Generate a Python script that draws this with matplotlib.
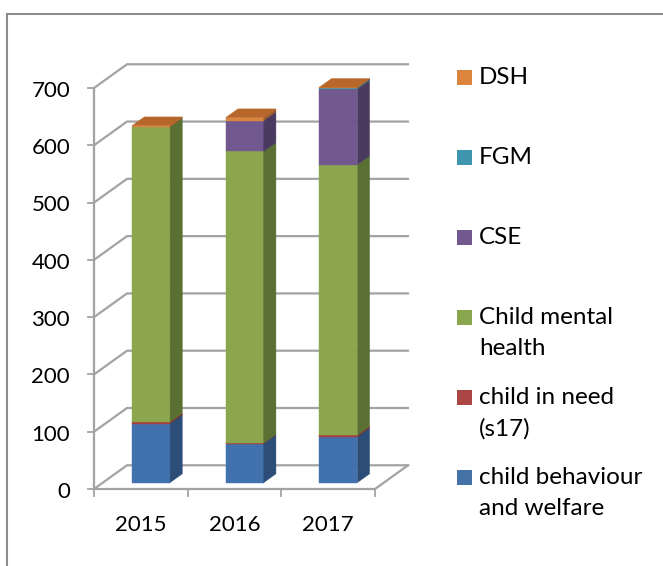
#!/usr/bin/env python3
"""Stacked bars with a fake 3D look: front, side and top faces per segment."""

import matplotlib

matplotlib.use("Agg")
import matplotlib.pyplot as plt
from matplotlib.lines import Line2D
from matplotlib.patches import Polygon, Rectangle

plt.rcParams["font.family"] = ["Lato", "DejaVu Sans"]

W, H = 663, 566

years = ["2015", "2016", "2017"]
child_behaviour = [103, 68, 80]
child_in_need = [3, 1, 3]
child_mental = [515, 509, 472]
cse = [0, 54, 132]
fgm = [0, 0, 2]
dsh = [2, 5, 1]
yticks = [0, 100, 200, 300, 400, 500, 600, 700]

series = [child_behaviour, child_in_need, child_mental, cse, fgm, dsh]
front_cols = ["#4272AE", "#A5403C", "#8CA64E", "#71588F", "#3D96AE", "#DB843D"]
side_cols = ["#2C4D77", "#6F2B29", "#5A6F32", "#4A3A60", "#28677A", "#97592A"]
top_col = "#B8672A"
grid_col = "#A3A3A3"

legend_labels = ["DSH", "FGM", "CSE", "Child mental\nhealth", "child in need\n(s17)",
                 "child behaviour\nand welfare"]
legend_cols = ["#DB843D", "#3D96AE", "#71588F", "#89A54E", "#AA4643", "#4572A7"]
legend_y = [77, 157, 237, 317, 397, 477]

# depth of the floor, in category and value units
DX = 33 / 93.7
DY = 41.4
BAR_W = 0.406
T0, T1 = 0.27, 0.64
LABEL_SIZE = 16
LEGEND_SIZE = 17.5


def proj(x, y, t):
    """Front-plane data coords for a point at depth fraction t."""
    return (x + t * DX, y + t * DY)


def poly(ax, pts, color, z, lw=0.0):
    ax.add_patch(Polygon(pts, closed=True, facecolor=color, edgecolor=color,
                         linewidth=lw, clip_on=False, zorder=z))


fig = plt.figure(figsize=(W / 100, H / 100), dpi=100)
fig.patch.set_facecolor("white")

# frame only shows on the top and left, the image is cropped on the other sides
fig.add_artist(Line2D([7 / W, 7 / W, 1], [0, 1 - 14 / H, 1 - 14 / H], transform=fig.transFigure,
                      color="#8C8C8C", lw=1.5, solid_joinstyle="miter"))

ax = fig.add_axes([94 / W, 1 - 489 / H, 281 / W, 401 / H])
ax.set_xlim(0, 3)
ax.set_ylim(0, 700)
ax.axis("off")

# back wall lines and the slanted ones on the left wall
for v in yticks:
    line = [proj(0, v, 0), proj(0, v, 1), proj(3, v, 1)]
    ax.plot(*zip(*line), color=grid_col, lw=1.6, clip_on=False, zorder=1,
            solid_joinstyle="miter")
    ax.plot([-0.06, 0], [v, v], color=grid_col, lw=1.3, clip_on=False, zorder=1)

# axis lines and floor
ax.plot([0, 0], [0, 700], color=grid_col, lw=1.6, clip_on=False, zorder=1)
floor = [proj(0, 0, 0), proj(3, 0, 0), proj(3, 0, 1)]
ax.plot(*zip(*floor), color=grid_col, lw=1.6, clip_on=False, zorder=1)
for i in range(4):
    ax.plot([i, i], [0, -12], color=grid_col, lw=1.3, clip_on=False, zorder=1)

for i, year in enumerate(years):
    left = i + 0.406
    right = left + BAR_W
    bottom = 0.0
    for vals, fc, sc in zip(series, front_cols, side_cols):
        top = bottom + vals[i]
        if vals[i] > 0:
            poly(ax, [proj(left - T0 * DX, bottom, T0), proj(right - T0 * DX, bottom, T0),
                      proj(right - T0 * DX, top, T0), proj(left - T0 * DX, top, T0)], fc, 3, 0.3)
            poly(ax, [proj(right - T0 * DX, bottom, T0), proj(right - T0 * DX, bottom, T1),
                      proj(right - T0 * DX, top, T1), proj(right - T0 * DX, top, T0)], sc, 3, 0.3)
        bottom = top
    poly(ax, [proj(left - T0 * DX, bottom, T0), proj(right - T0 * DX, bottom, T0),
              proj(right - T0 * DX, bottom, T1), proj(left - T0 * DX, bottom, T1)], top_col, 4, 0.3)
    ax.text(i + 0.5, -62, year, ha="center", va="center", fontsize=LABEL_SIZE, color="black")

for v in yticks:
    ax.text(-0.256, v - 5, str(v), ha="right", va="center", fontsize=LABEL_SIZE, color="black")

# legend, drawn by hand because the two-line entries keep even spacing
for lab, col, y in zip(legend_labels, legend_cols, legend_y):
    fig.add_artist(Rectangle((457 / W, 1 - (y + 7.5) / H), 15 / W, 15 / H,
                             transform=fig.transFigure, facecolor=col, edgecolor="none"))
    fig.text(479 / W, 1 - (y - 10) / H, lab, ha="left", va="top", fontsize=LEGEND_SIZE,
             color="black", linespacing=1.6)

fig.savefig("out.png", dpi=100)
